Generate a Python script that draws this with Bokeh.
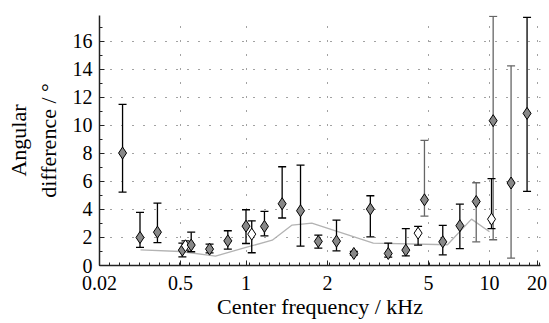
import numpy as np
from bokeh.plotting import figure
from bokeh.models import Range1d, FixedTicker, ColumnDataSource
from bokeh.embed import file_html
from bokeh.resources import INLINE

# x-axis tick frequencies (kHz) and labels
tick_freqs = [0.02, 0.5, 1, 2, 5, 10, 20]
tick_labels = ["0.02", "0.5", "1", "2", "5", "10", "20"]
# location of the labelled frequencies along the (warped) frequency axis
tick_pos = [0, 81, 146.5, 228, 329, 390, 437.5]
axis_end = 441
y_ticks = [0, 2, 4, 6, 8, 10, 12, 14, 16]

# measured points: center frequency (kHz), angular difference (deg), error range
freq = [0.05, 0.1, 0.2, 0.51, 0.527, 0.56, 0.68, 0.825, 1.0, 1.05, 1.17, 1.36,
        1.59, 1.85, 2.17, 2.54, 2.95, 3.47, 4.07, 4.55, 4.82, 5.88, 7.14, 8.6,
        10.3, 10.55, 13.7, 17.3]
mean = [8.03, 2.0, 2.38, 1.1, 1.41, 1.46, 1.17, 1.76, 2.81, 2.24, 2.79, 4.41,
        3.91, 1.72, 1.74, 0.86, 4.03, 0.86, 1.1, 2.31, 4.69, 1.69, 2.84, 4.57,
        3.31, 10.34, 5.89, 10.86]
upper = [11.5, 3.79, 4.46, 1.6, 1.76, 2.38, 1.53, 2.48, 3.98, 3.19, 3.86, 7.05,
         7.17, 2.17, 3.24, 1.0, 4.98, 1.6, 2.64, 2.8, 8.93, 2.86, 4.38, 5.91,
         6.21, 17.79, 14.26, 17.71]
lower = [5.24, 1.29, 1.64, 0.62, 1.1, 0.98, 0.9, 1.17, 1.57, 0.91, 2.12, 3.39,
         1.39, 1.24, 1.05, 0.75, 2.05, 0.6, 0.69, 1.46, 3.53, 0.76, 1.21, 1.69,
         2.64, 1.84, 0.53, 5.29]
filled = [1, 1, 1, 1, 0, 1, 1, 1, 1, 0, 1, 1,
          1, 1, 1, 1, 1, 1, 1, 0, 1, 1, 1, 1,
          0, 1, 1, 1]
bar_gray = [0, 0, 0, 0, 0, 0, 0, 0, 0, 0, 0, 0,
            0, 0, 0, 0, 0, 0, 0, 0, 1, 0, 0, 1,
            0, 1, 1, 0]

# reference curve
ref_freq = [0.102, 0.5, 0.724, 1.0, 1.25, 1.48, 1.75, 3.03, 6.2, 8.15, 10.0]
ref_val = [1.12, 1.0, 0.67, 1.29, 1.81, 2.89, 3.03, 1.6, 1.48, 3.31, 2.41]


def warp(f):
    return np.interp(np.log(np.asarray(f, dtype=float)), np.log(tick_freqs), tick_pos)


src = ColumnDataSource(dict(
    x=warp(freq), y=mean, hi=upper, lo=lower,
    fill=["#888888" if f else "#ffffff" for f in filled],
    bc=["#666666" if g else "#000000" for g in bar_gray],
))

FONT = "Liberation Serif"
Y_MAX = 17.85

p = figure(width=549, height=323, output_backend="svg", toolbar_location=None,
           x_range=Range1d(0, axis_end), y_range=Range1d(0, Y_MAX),
           min_border_left=99, min_border_right=9, min_border_top=15,
           min_border_bottom=58)
p.outline_line_color = None
p.background_fill_color = "white"
p.border_fill_color = "white"

# grid
p.xgrid.grid_line_color = "#444444"
p.xgrid.grid_line_dash = "1 13"
p.ygrid.grid_line_color = "#444444"
p.ygrid.grid_line_dash = "1 10"

# x axis
p.xaxis.ticker = FixedTicker(ticks=tick_pos, minor_ticks=list(np.arange(0, axis_end, 10.0)))
p.xaxis.major_label_overrides = {float(t): l for t, l in zip(tick_pos, tick_labels)}
p.xaxis.major_label_overrides.update({int(t): l for t, l in zip(tick_pos, tick_labels) if float(t).is_integer()})
p.xaxis.axis_label = "Center frequency / kHz"

# y axis
p.yaxis.ticker = FixedTicker(ticks=y_ticks, minor_ticks=list(range(0, 18)))
p.yaxis.axis_label = "Angular\ndifference / °"

for ax in (p.xaxis[0], p.yaxis[0]):
    ax.axis_line_color = "#222222"
    ax.axis_line_width = 1.5
    ax.major_tick_in = 5
    ax.major_tick_out = 0
    ax.minor_tick_in = 3
    ax.minor_tick_out = 0
    ax.major_tick_line_color = "#222222"
    ax.minor_tick_line_color = "#222222"
    ax.major_label_text_font = FONT
    ax.major_label_text_font_size = "20px"
    ax.major_label_text_color = "black"
    ax.axis_label_text_font = FONT
    ax.axis_label_text_font_size = "22px"
    ax.axis_label_text_font_style = "normal"
    ax.axis_label_text_color = "black"

p.xaxis.major_label_standoff = 10
p.xaxis.axis_label_standoff = 1
p.yaxis.major_label_standoff = 7
p.yaxis.axis_label_standoff = 9

# reference curve
p.line(warp(ref_freq), ref_val, line_color="#b3b3b3", line_width=1.3)

# error bars
p.segment(x0="x", y0="lo", x1="x", y1="hi", source=src, line_color="bc", line_width=1.3)
p.dash(x="x", y="hi", source=src, size=8, line_color="bc", line_width=1.3)
p.dash(x="x", y="lo", source=src, size=8, line_color="bc", line_width=1.3)

# diamonds
p.scatter(x="x", y="y", source=src, marker="diamond", size=12, fill_color="fill",
          line_color="black", line_width=1)

open("out.html", "w").write(file_html(p, INLINE))
